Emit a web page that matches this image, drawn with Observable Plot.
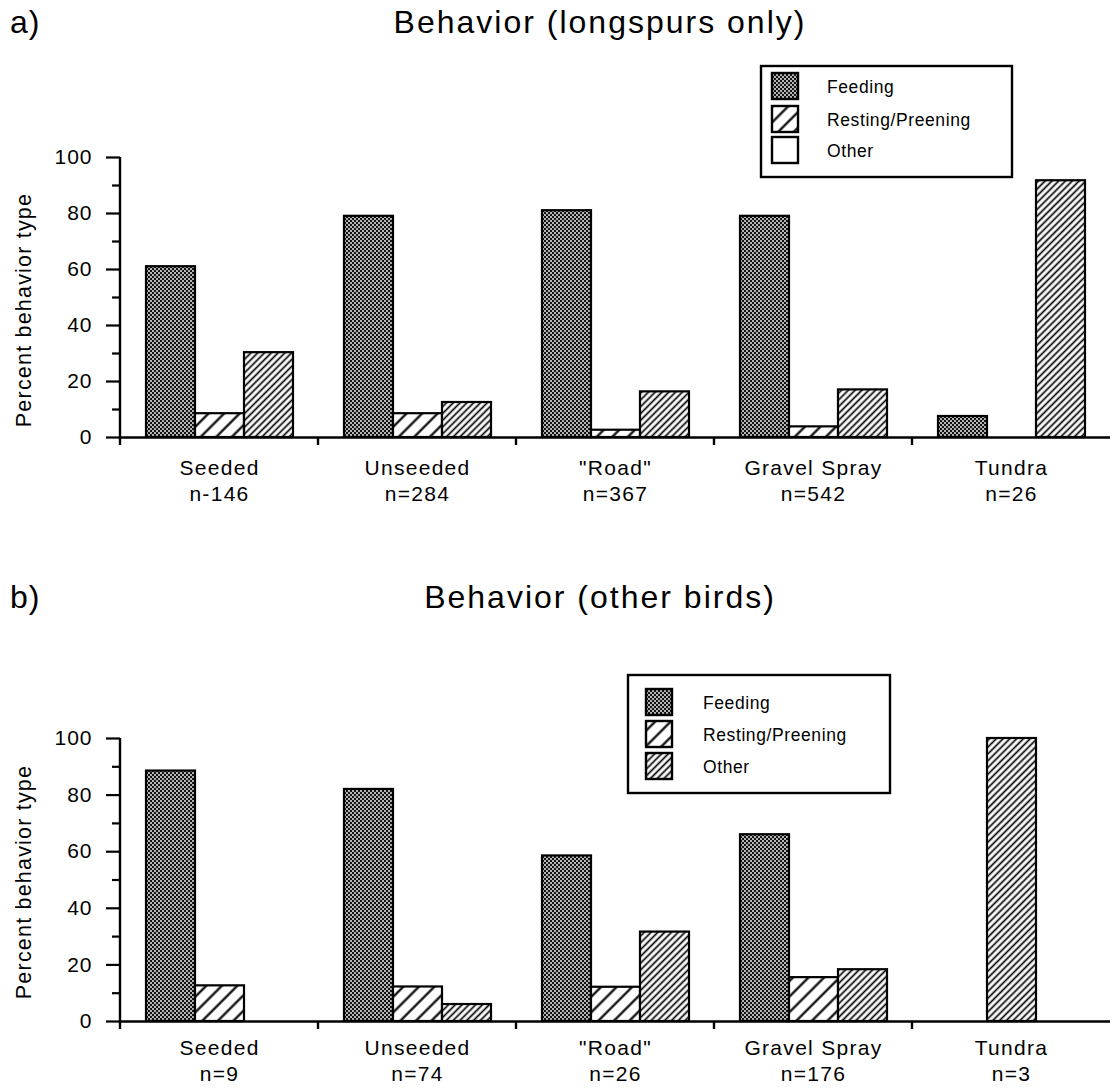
<!DOCTYPE html>
<html>
<head>
<meta charset="utf-8">
<script src="https://cdn.jsdelivr.net/npm/d3@7"></script>
<script src="https://cdn.jsdelivr.net/npm/@observablehq/plot@0.6"></script>
<style>
  body { margin: 0; background: #fff; }
  #page { position: relative; width: 1112px; height: 1089px; overflow: hidden; background: #fff;
          font-family: "Liberation Sans", Arial, Helvetica, sans-serif; color: #000; }
  .chart { position: absolute; left: 0; }
  #overlay { position: absolute; left: 0; top: 0; }
  g[aria-label="fx-axis tick label"] { letter-spacing: 1.3px; }
  g[aria-label="y-axis tick label"] { letter-spacing: 1px; }
</style>
</head>
<body>
<div id="page">
  <svg width="0" height="0" style="position:absolute">
    <defs>
      <pattern id="pFeed" patternUnits="userSpaceOnUse" width="4" height="4">
        <rect width="4" height="4" fill="#b4b4b4"></rect>
        <rect width="2" height="2" fill="#141414"></rect>
        <rect x="2" y="2" width="2" height="2" fill="#141414"></rect>
      </pattern>
      <pattern id="pRest" patternUnits="userSpaceOnUse" width="11" height="11" patternTransform="rotate(45)">
        <rect width="11" height="11" fill="#fff"></rect>
        <line x1="5.5" y1="0" x2="5.5" y2="11" stroke="#000" stroke-width="2.2"></line>
      </pattern>
      <pattern id="pOther" patternUnits="userSpaceOnUse" width="4.8" height="4.8" patternTransform="rotate(45)">
        <rect width="4.8" height="4.8" fill="#fff"></rect>
        <line x1="2.4" y1="0" x2="2.4" y2="4.8" stroke="#000" stroke-width="1.7"></line>
      </pattern>
    </defs>
  </svg>
  <div id="chartA" class="chart" style="top:130px"></div>
  <div id="chartB" class="chart" style="top:700px"></div>
  <svg id="overlay" width="1112" height="1089"></svg>
</div>
<script>
// ---- data ----
const categories = ["Seeded", "Unseeded", "\"Road\"", "Gravel Spray", "Tundra"];
const behaviors = ["Feeding", "Resting/Preening", "Other"];

const nLabelsA = ["n-146", "n=284", "n=367", "n=542", "n=26"];
const feedingA = [61, 79, 81, 79, 7.5];
const restingA = [8.5, 8.5, 2.6, 3.8, 0];
const otherA   = [30.3, 12.5, 16.3, 17, 91.7];

const nLabelsB = ["n=9", "n=74", "n=26", "n=176", "n=3"];
const feedingB = [88.5, 82, 58.5, 66, 0];
const restingB = [12.6, 12.2, 12.1, 15.5, 0];
const otherB   = [0, 6, 31.6, 18.3, 100];

const majorTicks = [0, 20, 40, 60, 80, 100];
const minorTicks = [10, 30, 50, 70, 90];

const titleA = "Behavior (longspurs only)";
const titleB = "Behavior (other birds)";
const yLabel = "Percent behavior type";
const legendSwatchesA = ["url(#pFeed)", "url(#pRest)", "#fff"];
const legendSwatchesB = ["url(#pFeed)", "url(#pRest)", "url(#pOther)"];
const barFills = ["url(#pFeed)", "url(#pRest)", "url(#pOther)"];

const FONT = "Liberation Sans, Arial, Helvetica, sans-serif";

function buildRows(feeding, resting, other) {
  const rows = [];
  categories.forEach((c, i) => {
    const vals = [feeding[i], resting[i], other[i]];
    const present = behaviors.filter((b, j) => vals[j] > 0);
    behaviors.forEach((b, j) => {
      if (vals[j] > 0) {
        // a group with a single bar is drawn in the middle slot
        rows.push({cat: c, behavior: b, slot: present.length === 1 ? behaviors[1] : b, value: vals[j]});
      }
    });
  });
  return rows;
}

function makeChart(feeding, resting, other, nLabels, height, marginTop, marginBottom, labelPad) {
  const rows = buildRows(feeding, resting, other);
  const plot = Plot.plot({
    width: 1112,
    height,
    marginLeft: 118,
    marginRight: 0,
    marginTop,
    marginBottom,
    style: {fontFamily: FONT, fontSize: "21px", color: "#000", background: "transparent", overflow: "visible"},
    fx: {domain: categories, padding: 0, label: null},
    x: {domain: behaviors, paddingInner: 0, paddingOuter: 0.49, axis: null},
    y: {domain: [0, 100], label: null},
    color: {domain: behaviors, range: barFills},
    marks: [
      Plot.barY(rows, {fx: "cat", x: "slot", y: "value", fill: "behavior", stroke: "#000", strokeWidth: 2.2}),
      Plot.ruleY([0], {stroke: "#000", strokeWidth: 2.6}),
      Plot.axisY({ticks: majorTicks, tickSize: 14, tickPadding: 14, strokeWidth: 2.2, fontSize: 21, label: null}),
      Plot.axisY({ticks: minorTicks, tickSize: 8, strokeWidth: 2.2, tickFormat: () => "", label: null}),
      Plot.axisFx({anchor: "bottom", tickSize: 0, tickPadding: labelPad, fontSize: 21, lineHeight: 1.25, label: null,
                   tickFormat: (d) => d + "\n" + nLabels[categories.indexOf(d)]})
    ]
  });
  // axis line and group-boundary ticks, positioned through Plot's own scales
  const fx = plot.scale("fx"), y = plot.scale("y");
  const svg = d3.select(plot);
  const y0 = y.apply(0), y100 = y.apply(100);
  const g = svg.append("g").attr("stroke", "#000").attr("stroke-width", 2.4);
  g.append("line").attr("x1", fx.apply(categories[0])).attr("x2", fx.apply(categories[0]))
    .attr("y1", y100).attr("y2", y0 + 8);
  categories.slice(1).forEach(c => {
    g.append("line").attr("x1", fx.apply(c)).attr("x2", fx.apply(c)).attr("y1", y0).attr("y2", y0 + 8);
  });
  return plot;
}

document.getElementById("chartA").appendChild(makeChart(feedingA, restingA, otherA, nLabelsA, 390, 27, 83, 19));
document.getElementById("chartB").appendChild(makeChart(feedingB, restingB, otherB, nLabelsB, 389, 38, 68, 15));

// ---- titles, axis labels and legends ----
const ov = d3.select("#overlay").attr("font-family", FONT).attr("fill", "#000");
function txt(x, y, s, size, opts = {}) {
  const t = ov.append("text").attr("x", x).attr("y", y).attr("font-size", size).text(s);
  if (opts.anchor) t.attr("text-anchor", opts.anchor);
  if (opts.ls) t.attr("letter-spacing", opts.ls);
  if (opts.rotate) t.attr("transform", `rotate(-90 ${x} ${y})`);
  return t;
}
txt(10, 33, "a)", 32, {ls: 1});
txt(600, 33, titleA, 32, {anchor: "middle", ls: 2});
txt(10, 608, "b)", 32, {ls: 1});
txt(600, 608, titleB, 32, {anchor: "middle", ls: 2});
txt(31, 310, yLabel, 21.5, {anchor: "middle", ls: 1.2, rotate: true});
txt(31, 882, yLabel, 21.5, {anchor: "middle", ls: 1.2, rotate: true});

function legend(x, y, w, h, swX, rowsY, textX, swatches) {
  ov.append("rect").attr("x", x).attr("y", y).attr("width", w).attr("height", h)
    .attr("fill", "#fff").attr("stroke", "#000").attr("stroke-width", 2.4);
  behaviors.forEach((b, i) => {
    ov.append("rect").attr("x", swX).attr("y", rowsY[i] - 13).attr("width", 26).attr("height", 26)
      .attr("fill", swatches[i]).attr("stroke", "#000").attr("stroke-width", 2.4);
    txt(textX, rowsY[i] + 6.5, b, 17.5, {ls: 0.6});
  });
}
legend(761, 66, 251, 111, 772, [86, 119, 150], 827, legendSwatchesA);
legend(628, 675, 262, 118, 646, [702, 734, 766], 703, legendSwatchesB);
</script>
</body>
</html>
